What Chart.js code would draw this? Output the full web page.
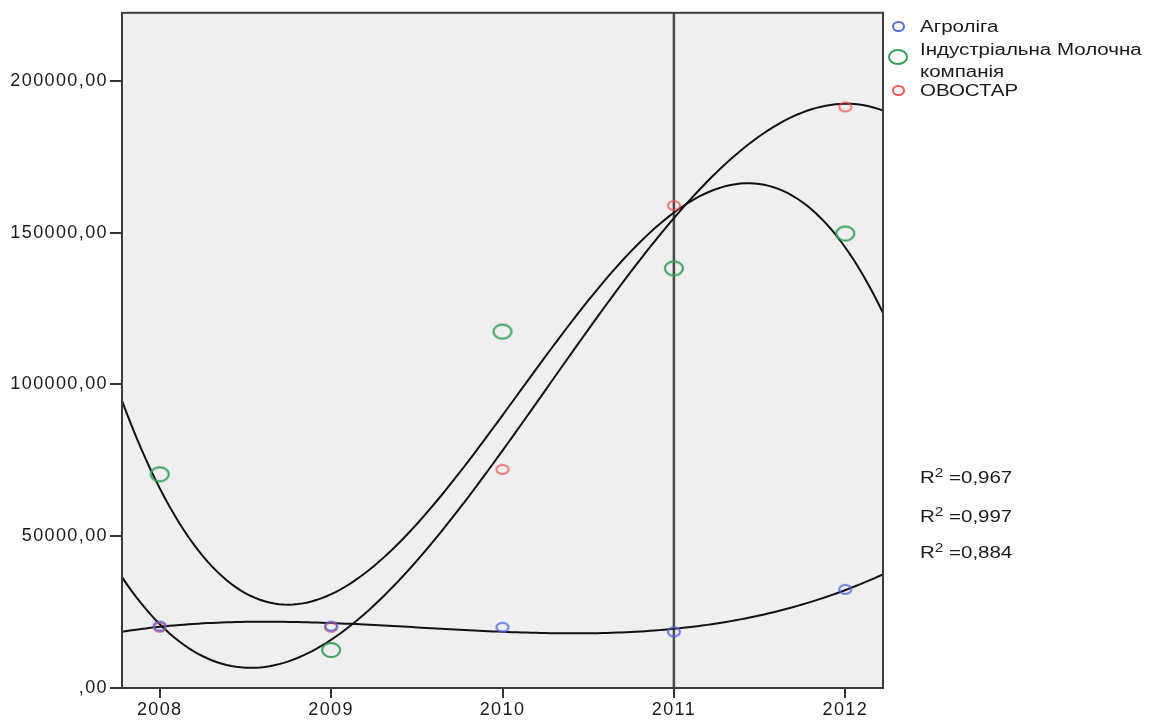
<!DOCTYPE html>
<html>
<head>
<meta charset="utf-8">
<script src="https://cdn.jsdelivr.net/npm/chart.js@4"></script>
<style>
  body { margin: 0; background: #fff; }
  #wrap { position: relative; width: 1153px; height: 720px; }
  .lbl { position: absolute; font-family: "Liberation Sans", Arial, sans-serif; font-size: 16px; color: #1a1a1a;
         white-space: nowrap; transform: scaleX(1.28); transform-origin: left center; line-height: 18px; }
  .dot { position: absolute; border-radius: 50%; box-sizing: border-box; }
  .lbl sup { font-size: 12px; vertical-align: 6px; line-height: 0; }
</style>
</head>
<body>
<div id="wrap">
  <canvas id="myChart" width="1153" height="720"></canvas>

  <span class="dot" style="left:892px;top:21px;width:13px;height:11px;border:2px solid #5b6bd2"></span>
  <span class="lbl" style="left:920px;top:18px">Агроліга</span>
  <span class="dot" style="left:888px;top:49px;width:20px;height:16px;border:2px solid #3a9e5c"></span>
  <span class="lbl" style="left:920px;top:41px">Індустріальна Молочна</span>
  <span class="lbl" style="left:920px;top:63px">компанія</span>
  <span class="dot" style="left:892px;top:85px;width:13px;height:11px;border:2px solid #ec5a5a"></span>
  <span class="lbl" style="left:920px;top:82px">ОВОСТАР</span>

  <span class="lbl" id="r0" style="left:920px;top:469px"></span>
  <span class="lbl" id="r1" style="left:920px;top:508px"></span>
  <span class="lbl" id="r2" style="left:920px;top:544px"></span>
</div>
<script>
const years = [2008, 2009, 2010, 2011, 2012];
const agroliga = [20400, 20400, 20000, 18500, 32500];
const milk = [70400, 12500, 117400, 138200, 149700];
const ovostar = [20000, 20000, 72000, 158900, 191400];

const xTicks = [2008, 2009, 2010, 2011, 2012];
const yTicks = [0, 50000, 100000, 150000, 200000];
const yTickLabels = [',00', '50000,00', '100000,00', '150000,00', '200000,00'];
const rSquared = ['0,967', '0,997', '0,884'];
const refYear = 2011;

const xMin = 2007.78;
const xMax = 2012.22;
const yMax = 222400;

rSquared.forEach((r, i) => {
  document.getElementById('r' + i).innerHTML = 'R<sup>2</sup> =' + r;
});

// cubic least squares fit, like the SPSS fit lines
function cubicFit(xs, ys) {
  const c = xs.reduce((a, b) => a + b, 0) / xs.length;
  const n = 4;
  const A = [];
  for (let i = 0; i < n; i++) {
    A.push(new Array(n + 1).fill(0));
  }
  xs.forEach((x0, k) => {
    const x = x0 - c;
    for (let i = 0; i < n; i++) {
      for (let j = 0; j < n; j++) A[i][j] += Math.pow(x, i + j);
      A[i][n] += Math.pow(x, i) * ys[k];
    }
  });
  for (let i = 0; i < n; i++) {
    let p = i;
    for (let r = i + 1; r < n; r++) if (Math.abs(A[r][i]) > Math.abs(A[p][i])) p = r;
    [A[i], A[p]] = [A[p], A[i]];
    for (let r = 0; r < n; r++) {
      if (r === i) continue;
      const f = A[r][i] / A[i][i];
      for (let j = i; j <= n; j++) A[r][j] -= f * A[i][j];
    }
  }
  const coef = A.map((row, i) => row[n] / row[i]);
  return x => coef.reduce((s, b, i) => s + b * Math.pow(x - c, i), 0);
}

function fitLine(ys) {
  const f = cubicFit(years, ys);
  const pts = [];
  for (let i = 0; i <= 160; i++) {
    const x = xMin + (xMax - xMin) * i / 160;
    pts.push({ x: x, y: f(x) });
  }
  return pts;
}

function ring(w, h, color) {
  const c = document.createElement('canvas');
  c.width = w + 4;
  c.height = h + 4;
  const g = c.getContext('2d');
  g.strokeStyle = color;
  g.lineWidth = 2;
  g.beginPath();
  g.ellipse(c.width / 2, c.height / 2, w / 2 - 1, h / 2 - 1, 0, 0, Math.PI * 2);
  g.stroke();
  return c;
}

const toPts = ys => years.map((x, i) => ({ x: x, y: ys[i] }));

const frame = {
  id: 'frame',
  beforeDraw(chart) {
    const { ctx, chartArea: a } = chart;
    ctx.fillStyle = '#efefef';
    ctx.fillRect(a.left, a.top, a.width, a.height);
    ctx.letterSpacing = '1.4px';
  },
  afterDatasetsDraw(chart) {
    const { ctx, chartArea: a } = chart;
    ctx.save();
    ctx.strokeStyle = '#3c3c3c';
    ctx.lineWidth = 2;
    ctx.strokeRect(a.left, a.top, a.width, a.height);
    ctx.restore();
  }
};

const tickFont = { family: '"Liberation Sans", Arial, sans-serif', size: 18 };
const ctx = document.getElementById('myChart');

new Chart(ctx, {
  type: 'scatter',
  data: {
    datasets: [
      {
        label: 'Агроліга',
        data: toPts(agroliga),
        pointStyle: ring(14, 11, 'rgba(80,100,215,0.85)'),
        order: 0,
      },
      {
        label: 'Індустріальна Молочна компанія',
        data: toPts(milk),
        pointStyle: ring(20, 16, '#3a9e5c'),
        order: 0,
      },
      {
        label: 'ОВОСТАР',
        data: toPts(ovostar),
        pointStyle: ring(14, 11, 'rgba(236,80,80,0.75)'),
        order: 0,
      },
      { type: 'line', data: fitLine(agroliga), borderColor: '#111', borderWidth: 2, pointRadius: 0, order: 1 },
      { type: 'line', data: fitLine(milk), borderColor: '#111', borderWidth: 2, pointRadius: 0, order: 1 },
      { type: 'line', data: fitLine(ovostar), borderColor: '#111', borderWidth: 2, pointRadius: 0, order: 1 },
      {
        type: 'line',
        data: [{ x: refYear, y: 0 }, { x: refYear, y: yMax }],
        borderColor: '#4a4a4a',
        borderWidth: 2.5,
        pointRadius: 0,
        order: 2,
      },
    ],
  },
  options: {
    responsive: false,
    animation: false,
    layout: { padding: { top: 12, right: 270, left: 0, bottom: 0 } },
    plugins: { legend: { display: false }, tooltip: { enabled: false } },
    scales: {
      x: {
        type: 'linear',
        min: xMin,
        max: xMax,
        afterBuildTicks: s => { s.ticks = xTicks.map(v => ({ value: v })); },
        afterFit: s => { s.height = 32; },
        border: { display: false },
        grid: { drawOnChartArea: false, drawTicks: true, tickLength: 10, color: '#333', lineWidth: 2 },
        ticks: { font: tickFont, color: '#1a1a1a', padding: 1, maxRotation: 0, callback: v => String(v) },
      },
      y: {
        min: 0,
        max: yMax,
        afterBuildTicks: s => { s.ticks = yTicks.map(v => ({ value: v })); },
        afterFit: s => { s.width = 122; },
        border: { display: false },
        grid: { drawOnChartArea: false, drawTicks: true, tickLength: 12, color: '#333', lineWidth: 2 },
        ticks: { font: tickFont, color: '#1a1a1a', padding: 2, callback: (v, i) => yTickLabels[i] },
      },
    },
  },
  plugins: [frame],
});
</script>
</body>
</html>
